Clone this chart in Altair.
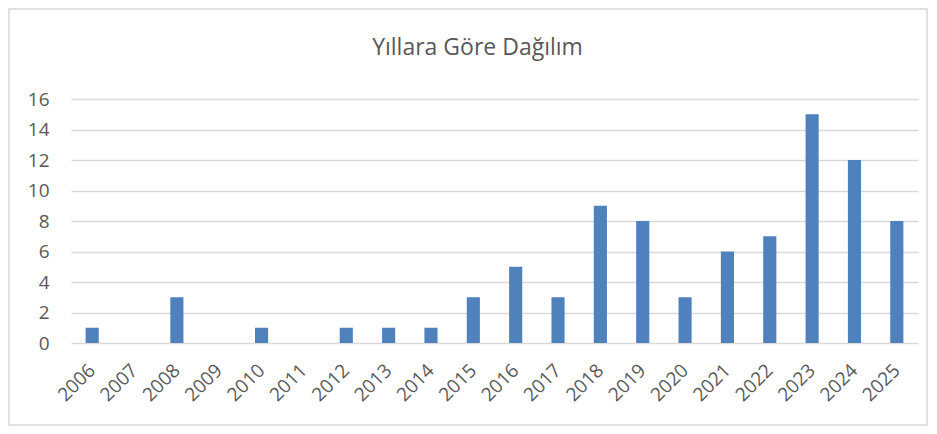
import altair as alt
import pandas as pd

years = [str(y) for y in range(2006, 2026)]
counts = [1, 0, 3, 0, 1, 0, 1, 1, 1, 3, 5, 3, 9, 8, 3, 6, 7, 15, 12, 8]
title_text = "Yıllara Göre Dağılım"

df = pd.DataFrame({"Yıl": years, "Sayı": counts})

FONT = "Open Sans"
GRAY = "#595959"

bars = alt.Chart(df).mark_bar(color="#4F81BD").encode(
    x=alt.X("Yıl:N", sort=years,
            scale=alt.Scale(paddingInner=0.69, paddingOuter=0.345),
            axis=alt.Axis(title=None, labelAngle=-45, labelAlign="right", labelBaseline="middle",
                          labelFontSize=19, labelColor=GRAY, labelFont=FONT,
                          ticks=False, domain=False, labelPadding=24, labelOverlap=False)),
    y=alt.Y("Sayı:Q", scale=alt.Scale(domain=[0, 16]),
            axis=alt.Axis(title=None, values=list(range(0, 17, 2)), labelFontSize=19,
                          labelColor=GRAY, labelFont=FONT, ticks=False, domain=False,
                          labelPadding=22, gridColor="#d9d9d9", gridWidth=1.5)),
)

frame = alt.Chart(df.head(1)).mark_rect(fill=None, stroke="#d9d9d9", strokeWidth=1.5).encode(
    x=alt.value(-62), x2=alt.value(856), y=alt.value(-90), y2=alt.value(326)
)

chart = alt.layer(frame, bars).properties(
    width=847, height=244,
    title=alt.TitleParams(title_text, fontSize=23, font=FONT, fontWeight="normal",
                          color=GRAY, anchor="middle", dx=-17, offset=-52, frame="group"),
    autosize=alt.AutoSizeParams(type="none"),
    padding={"left": 63, "top": 91, "right": 10, "bottom": 83},
).configure_view(stroke=None)

chart.save("out.html", embed_options={"renderer": "svg", "actions": False})
